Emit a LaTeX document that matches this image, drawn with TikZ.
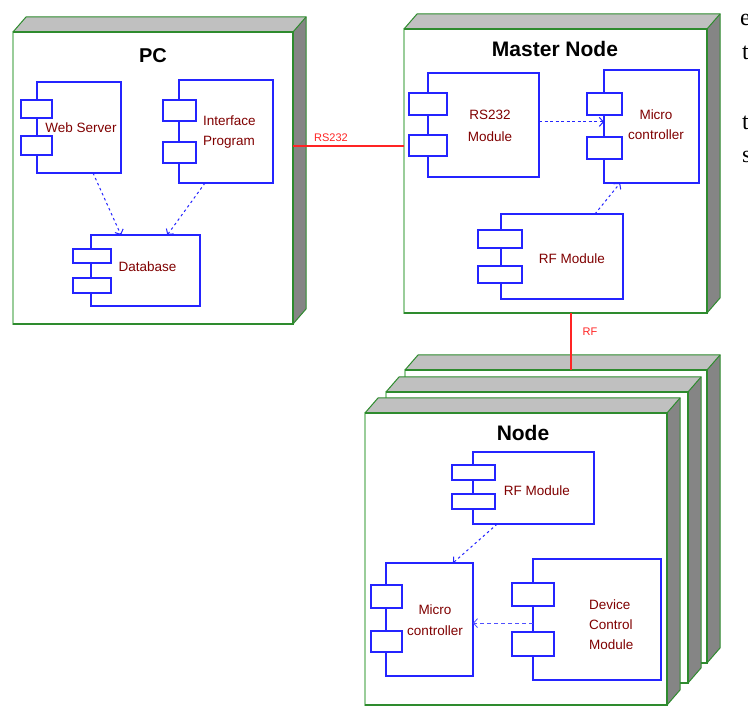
\documentclass[tikz,border=0pt]{standalone}
\usepackage{fontspec}
\setmainfont{Liberation Sans}
\newfontfamily\timesf{Liberation Serif}
\usetikzlibrary{arrows.meta,calc}
\definecolor{dgreen}{HTML}{2E8B2E}
\definecolor{lgreen}{HTML}{9ACD9A}
\definecolor{topgray}{HTML}{C0C0C0}
\definecolor{sidegray}{HTML}{858585}
\definecolor{cblue}{HTML}{2424FF}
\definecolor{ctext}{HTML}{800000}
\definecolor{lred}{HTML}{FF2424}
\tikzset{
  front/.style={draw=lgreen, line width=2pt, fill=white, inner sep=0pt, outer sep=0pt, anchor=north west},
  comp/.style={draw=cblue, line width=1.4pt, fill=white, inner sep=0pt, outer sep=0pt, anchor=north west},
  port/.style={draw=cblue, line width=1.4pt, fill=white, inner sep=0pt, outer sep=0pt, anchor=north west},
  ctxt/.style={text=ctext, font=\fontsize{13.5}{20}\selectfont, inner sep=0pt, align=center},
  head/.style={font=\fontsize{21}{24}\selectfont\bfseries, inner sep=0pt},
  linklbl/.style={text=lred, font=\fontsize{11}{12}\selectfont, inner sep=0pt},
  link/.style={lred, line width=1.3pt},
  dep/.style={cblue, line width=1pt, dash pattern=on 2.5pt off 3pt, -{Straight Barb[length=4pt,width=9pt]}},
  deplight/.style={cblue!80, line width=0.8pt, dash pattern=on 4pt off 3pt, -{Straight Barb[length=4pt,width=9pt]}},
  sidetxt/.style={font=\timesf\fontsize{24}{28}\selectfont, inner sep=0pt, anchor=base west},
}
% name, x0, y0, x1, y1
\newcommand\depbox[5]{%
  \fill[topgray] (#2,#3) -- ++(13,-15) -- ({#4+13},{#3-15}) -- (#4,#3) -- cycle;
  \fill[sidegray] (#4,#3) -- ({#4+13},{#3-15}) -- ({#4+13},{#5-15}) -- (#4,#5) -- cycle;
  \draw[dgreen, line width=1pt] (#2,#3) -- ++(13,-15) -- ({#4+13},{#3-15}) -- ({#4+13},{#5-15}) -- (#4,#5);
  \draw[dgreen, line width=1pt] (#4,#3) -- ({#4+13},{#3-15});
  \node[front, minimum width={#4-#2}, minimum height={#5-#3}] (#1) at (#2,#3) {};
  \draw[dgreen, line width=1.2pt] (#1.south west) -- (#1.south east) -- (#1.north east) -- (#1.north west);
}
\begin{document}
\begin{tikzpicture}[x=1pt, y=-1pt]
\useasboundingbox (0,0) rectangle (748,708);
\clip (0,0) rectangle (748,708);
\fill[white] (0,0) rectangle (748,708);

% ---------------- PC ----------------
\depbox{pc}{13}{32}{293}{324}
\node[head, font=\fontsize{20}{24}\selectfont\bfseries] (pct) at (153,55.5) {PC};

\node[comp, minimum width=84, minimum height=91] (ws) at (37,82) {};
\node[port, minimum width=31, minimum height=18] (wsp1) at (21,100) {};
\node[port, minimum width=31, minimum height=19] (wsp2) at (21,136) {};
\node[ctxt] (wst) at (81,128) {Web Server};

\node[comp, minimum width=94, minimum height=103] (ip) at (179,80) {};
\node[port, minimum width=33, minimum height=21] (ipp1) at (163,100) {};
\node[port, minimum width=33, minimum height=21] (ipp2) at (163,142) {};
\node[ctxt, align=left, anchor=west] (ipt) at (203,132) {Interface\\Program};

\node[comp, minimum width=109, minimum height=71] (db) at (91,235) {};
\node[port, minimum width=38, minimum height=14] (dbp1) at (73,249) {};
\node[port, minimum width=38, minimum height=15] (dbp2) at (73,278) {};
\node[ctxt] (dbt) at (147.5,267) {Database};

\draw[dep] ($(ws.south west)!0.667!(ws.south east)$) -- ($(db.north west)!0.275!(db.north east)$);
\draw[dep] ($(ip.south west)!0.277!(ip.south east)$) -- ($(db.north west)!0.70!(db.north east)$);

% ---------------- Master Node ----------------
\depbox{mn}{404}{29}{707}{313}
\node[head] (mnt) at (555,49) {Master Node};

\node[comp, minimum width=111, minimum height=104] (rs) at (428,73) {};
\node[port, minimum width=38, minimum height=22] (rsp1) at (409,93) {};
\node[port, minimum width=38, minimum height=21] (rsp2) at (409,135) {};
\node[ctxt, font=\fontsize{13.5}{22}\selectfont] (rst) at (490,126) {RS232\\Module};

\node[comp, minimum width=95, minimum height=113] (mc) at (604,70) {};
\node[port, minimum width=35, minimum height=22] (mcp1) at (587,93) {};
\node[port, minimum width=35, minimum height=22] (mcp2) at (587,137) {};
\node[ctxt] (mct) at (656,125) {Micro\\controller};

\node[comp, minimum width=122, minimum height=85] (rf) at (501,214) {};
\node[port, minimum width=44, minimum height=18] (rfp1) at (478,230) {};
\node[port, minimum width=44, minimum height=17] (rfp2) at (478,266) {};
\node[ctxt] (rft) at (572,259) {RF Module};

\coordinate (rsout) at ($(rs.north east)!0.47!(rs.south east)$);
\draw[dep, dash pattern=on 3pt off 2.5pt] (rsout) -- (mc.west |- rsout);
\draw[dep] ($(rf.north west)!0.77!(rf.north east)$) -- ($(mc.south west)!0.17!(mc.south east)$);

% RS232 link
\coordinate (rsl) at ($(pc.north east)!0.3904!(pc.south east)$);
\draw[link] (rsl) -- (mn.west |- rsl);
\node[linklbl] (rslt) at (331,138) {RS232};

% ---------------- Node stack ----------------
\depbox{nb}{405}{370}{707}{663}
\depbox{nm}{386}{392}{688}{683}
\depbox{nf}{365}{413}{667}{705}
\node[head] (nft) at (523,433) {Node};

% RF link
\coordinate (rftop) at (571,313);
\draw[link] (rftop) -- (rftop |- nb.north);
\node[linklbl] (rflt) at (590,332) {RF};

\node[comp, minimum width=121, minimum height=72] (nrf) at (473,452) {};
\node[port, minimum width=43, minimum height=15] (nrfp1) at (452,465) {};
\node[port, minimum width=43, minimum height=15] (nrfp2) at (452,494) {};
\node[ctxt] (nrft) at (537,491) {RF Module};

\node[comp, minimum width=87, minimum height=113] (nmc) at (386,563) {};
\node[port, minimum width=31, minimum height=23] (nmcp1) at (371,585) {};
\node[port, minimum width=31, minimum height=21] (nmcp2) at (371,631) {};
\node[ctxt, font=\fontsize{13.5}{21}\selectfont] (nmct) at (435,620.5) {Micro\\controller};

\node[comp, minimum width=128, minimum height=121] (dc) at (533,559) {};
\node[port, minimum width=42, minimum height=23] (dcp1) at (512,583) {};
\node[port, minimum width=42, minimum height=24] (dcp2) at (512,632) {};
\node[ctxt, align=left, anchor=west] (dct) at (589,625) {Device\\Control\\Module};

\draw[dep] ($(nrf.south west)!0.2!(nrf.south east)$) -- ($(nmc.north west)!0.77!(nmc.north east)$);
\coordinate (dcout) at ($(dc.north west)!0.53!(dc.south west)$);
\draw[deplight] (dcout) -- (nmc.east |- dcout);

% ---------------- clipped side text ----------------
\node[sidetxt] (s1) at (740,26) {e};
\node[sidetxt] (s2) at (742,60) {t};
\node[sidetxt] (s3) at (742,130) {t};
\node[sidetxt] (s4) at (742,163) {s};
\end{tikzpicture}
\end{document}
